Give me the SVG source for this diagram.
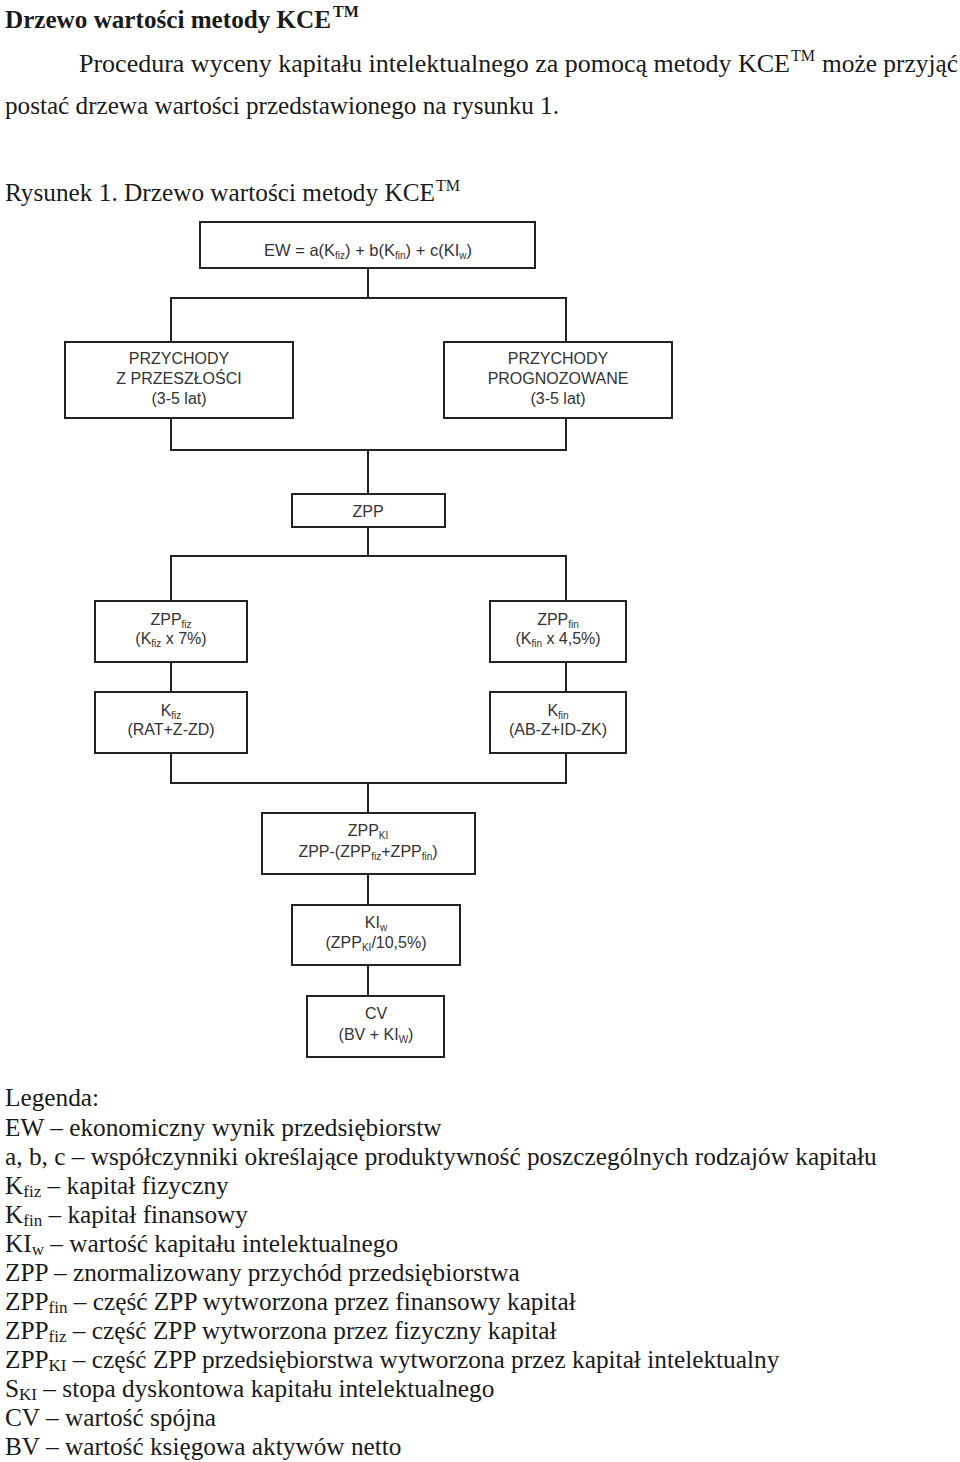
<svg xmlns="http://www.w3.org/2000/svg" width="960" height="1462" viewBox="0 0 960 1462">
<style>
.bg{fill:#fff}
.body{font-family:"Liberation Serif","Times New Roman",serif;font-size:24px;fill:#1a1a1a}
.big{font-size:26px}
.bold{font-weight:bold}
.leg{font-family:"Liberation Serif","Times New Roman",serif;font-size:25.3px;fill:#1a1a1a}
.sub{font-size:17px}
.sup{font-size:16px}
.box{fill:#fff;stroke:#222;stroke-width:2}
.bt{font-family:"Liberation Sans",Arial,sans-serif;font-size:16px;fill:#333;text-anchor:middle}
.bs{font-size:10px}
.conn line{stroke:#222;stroke-width:2}
</style>
<rect class="bg" x="0" y="0" width="960" height="1462"/>

<g id="header">
<text class="body big bold" x="5" y="28" textLength="326" lengthAdjust="spacingAndGlyphs">Drzewo wartości metody KCE</text>
<text class="body sup bold" x="333" y="17">TM</text>
<text class="body big" x="79" y="72" textLength="711" lengthAdjust="spacingAndGlyphs">Procedura wyceny kapitału intelektualnego za pomocą metody KCE</text>
<text class="body sup" x="791" y="61">TM</text>
<text class="body big" x="822" y="72" textLength="136" lengthAdjust="spacingAndGlyphs">może przyjąć</text>
<text class="body big" x="5" y="114" textLength="554" lengthAdjust="spacingAndGlyphs">postać drzewa wartości przedstawionego na rysunku 1.</text>
<text class="body" x="5" y="201" style="font-size:25px" textLength="430" lengthAdjust="spacingAndGlyphs">Rysunek 1. Drzewo wartości metody KCE</text>
<text class="body sup" x="436" y="191">TM</text>
</g>

<g id="connectors" class="conn">
<line x1="368" y1="268" x2="368" y2="298"/>
<line x1="170" y1="298" x2="567" y2="298"/>
<line x1="171" y1="298" x2="171" y2="342"/>
<line x1="566" y1="298" x2="566" y2="342"/>
<line x1="171" y1="418" x2="171" y2="450"/>
<line x1="566" y1="418" x2="566" y2="450"/>
<line x1="170" y1="450" x2="567" y2="450"/>
<line x1="368" y1="450" x2="368" y2="494"/>
<line x1="368" y1="527" x2="368" y2="556"/>
<line x1="170" y1="556" x2="567" y2="556"/>
<line x1="171" y1="556" x2="171" y2="601"/>
<line x1="566" y1="556" x2="566" y2="601"/>
<line x1="171" y1="662" x2="171" y2="692"/>
<line x1="566" y1="662" x2="566" y2="692"/>
<line x1="171" y1="753" x2="171" y2="783"/>
<line x1="566" y1="753" x2="566" y2="783"/>
<line x1="170" y1="783" x2="567" y2="783"/>
<line x1="368" y1="783" x2="368" y2="813"/>
<line x1="368" y1="874" x2="368" y2="905"/>
<line x1="368" y1="965" x2="368" y2="996"/>
</g>

<g id="node-ew">
<rect class="box" x="200" y="222" width="335" height="46"/>
<text class="bt" x="368" y="256" style="font-size:16.5px">EW = a(K<tspan class="bs" dy="3">fiz</tspan><tspan dy="-3">) + b(K</tspan><tspan class="bs" dy="3">fin</tspan><tspan dy="-3">) + c(KI</tspan><tspan class="bs" dy="3">w</tspan><tspan dy="-3">)</tspan></text>
</g>

<g id="node-przeszlosci">
<rect class="box" x="65" y="342" width="228" height="76"/>
<text class="bt" x="179" y="364">PRZYCHODY</text>
<text class="bt" x="179" y="384">Z PRZESZŁOŚCI</text>
<text class="bt" x="179" y="404">(3-5 lat)</text>
</g>

<g id="node-prognozowane">
<rect class="box" x="444" y="342" width="228" height="76"/>
<text class="bt" x="558" y="364">PRZYCHODY</text>
<text class="bt" x="558" y="384">PROGNOZOWANE</text>
<text class="bt" x="558" y="404">(3-5 lat)</text>
</g>

<g id="node-zpp">
<rect class="box" x="292" y="494" width="153" height="33"/>
<text class="bt" x="368" y="517">ZPP</text>
</g>

<g id="node-zppfiz">
<rect class="box" x="95" y="601" width="152" height="61"/>
<text class="bt" x="171" y="625">ZPP<tspan class="bs" dy="3">fiz</tspan></text>
<text class="bt" x="171" y="644">(K<tspan class="bs" dy="3">fiz</tspan><tspan dy="-3"> x 7%)</tspan></text>
</g>

<g id="node-zppfin">
<rect class="box" x="490" y="601" width="136" height="61"/>
<text class="bt" x="558" y="625">ZPP<tspan class="bs" dy="3">fin</tspan></text>
<text class="bt" x="558" y="644">(K<tspan class="bs" dy="3">fin</tspan><tspan dy="-3"> x 4,5%)</tspan></text>
</g>

<g id="node-kfiz">
<rect class="box" x="95" y="692" width="152" height="61"/>
<text class="bt" x="171" y="716">K<tspan class="bs" dy="3">fiz</tspan></text>
<text class="bt" x="171" y="735">(RAT+Z-ZD)</text>
</g>

<g id="node-kfin">
<rect class="box" x="490" y="692" width="136" height="61"/>
<text class="bt" x="558" y="716">K<tspan class="bs" dy="3">fin</tspan></text>
<text class="bt" x="558" y="735">(AB-Z+ID-ZK)</text>
</g>

<g id="node-zppki">
<rect class="box" x="262" y="813" width="213" height="61"/>
<text class="bt" x="368" y="836">ZPP<tspan class="bs" dy="3">KI</tspan></text>
<text class="bt" x="368" y="857">ZPP-(ZPP<tspan class="bs" dy="3">fiz</tspan><tspan dy="-3">+ZPP</tspan><tspan class="bs" dy="3">fin</tspan><tspan dy="-3">)</tspan></text>
</g>

<g id="node-kiw">
<rect class="box" x="292" y="905" width="168" height="60"/>
<text class="bt" x="376" y="928">KI<tspan class="bs" dy="3">w</tspan></text>
<text class="bt" x="376" y="948">(ZPP<tspan class="bs" dy="3">KI</tspan><tspan dy="-3">/10,5%)</tspan></text>
</g>

<g id="node-cv">
<rect class="box" x="307" y="996" width="137" height="61"/>
<text class="bt" x="376" y="1019">CV</text>
<text class="bt" x="376" y="1040">(BV + KI<tspan class="bs" dy="3">W</tspan><tspan dy="-3">)</tspan></text>
</g>

<g id="legend" class="leg">
<text x="5" y="1106">Legenda:</text>
<text x="5" y="1136">EW – ekonomiczny wynik przedsiębiorstw</text>
<text x="5" y="1165">a, b, c – współczynniki określające produktywność poszczególnych rodzajów kapitału</text>
<text x="5" y="1194">K<tspan class="sub" dy="3">fiz</tspan><tspan dy="-3"> – kapitał fizyczny</tspan></text>
<text x="5" y="1223">K<tspan class="sub" dy="3">fin</tspan><tspan dy="-3"> – kapitał finansowy</tspan></text>
<text x="5" y="1252">KI<tspan class="sub" dy="3">w</tspan><tspan dy="-3"> – wartość kapitału intelektualnego</tspan></text>
<text x="5" y="1281">ZPP – znormalizowany przychód przedsiębiorstwa</text>
<text x="5" y="1310">ZPP<tspan class="sub" dy="3">fin</tspan><tspan dy="-3"> – część ZPP wytworzona przez finansowy kapitał</tspan></text>
<text x="5" y="1339">ZPP<tspan class="sub" dy="3">fiz</tspan><tspan dy="-3"> – część ZPP wytworzona przez fizyczny kapitał</tspan></text>
<text x="5" y="1368">ZPP<tspan class="sub" dy="3">KI</tspan><tspan dy="-3"> – część ZPP przedsiębiorstwa wytworzona przez kapitał intelektualny</tspan></text>
<text x="5" y="1397">S<tspan class="sub" dy="3">KI</tspan><tspan dy="-3"> – stopa dyskontowa kapitału intelektualnego</tspan></text>
<text x="5" y="1426">CV – wartość spójna</text>
<text x="5" y="1455">BV – wartość księgowa aktywów netto</text>
</g>
</svg>
